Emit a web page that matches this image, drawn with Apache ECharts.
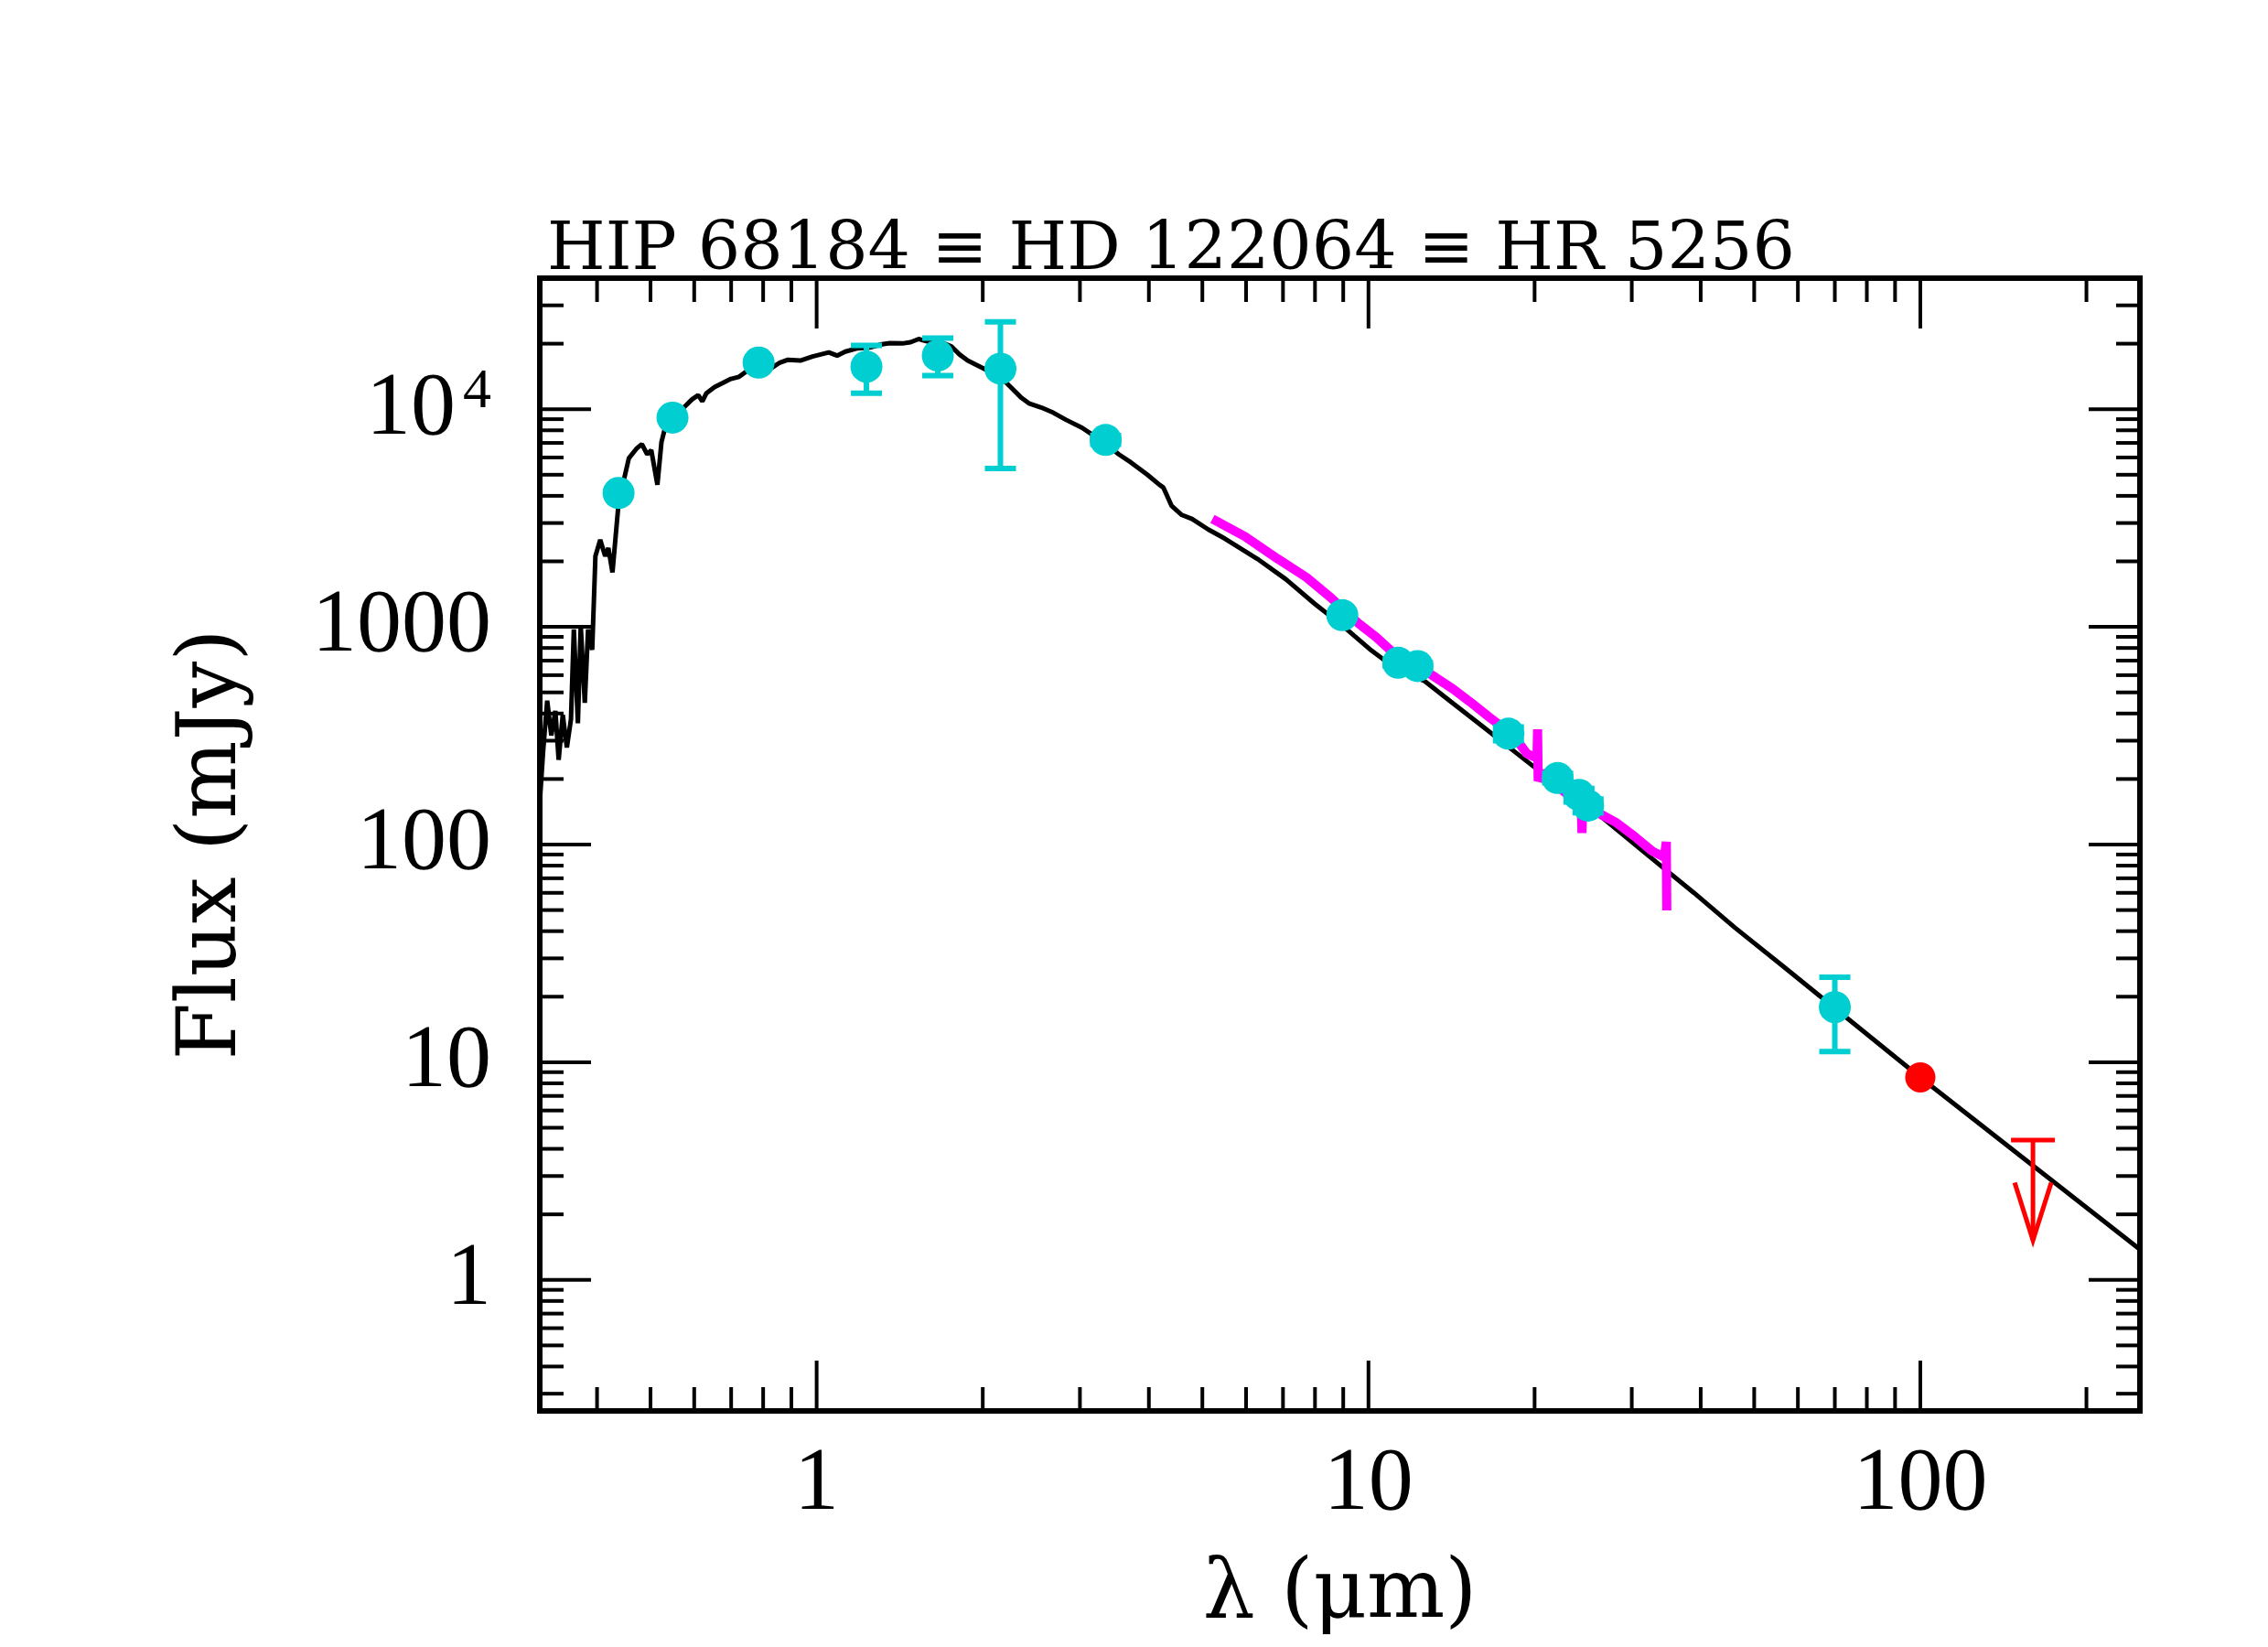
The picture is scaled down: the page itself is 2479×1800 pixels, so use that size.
<!DOCTYPE html>
<html>
<head>
<meta charset="utf-8">
<script src="https://cdn.jsdelivr.net/npm/echarts@6/dist/echarts.min.js"></script>
<style>
html,body{margin:0;padding:0;background:#fff;}
#chart{width:2479px;height:1800px;}
</style>
</head>
<body>
<div id="chart"></div>
<script>
// ---- Data (wavelength in micron, flux in mJy) ----
const modelWave = [0.315,0.3194,0.3249,0.3305,0.3362,0.3408,0.3467,0.3527,0.3588,0.3631,0.3693,0.3737,0.3801,0.3853,0.392,0.3973,0.4054,0.4138,0.4194,0.4266,0.4376,0.4567,0.4725,0.4823,0.4931,0.5016,0.5146,0.5234,0.5324,0.5509,0.5798,0.5948,0.6102,0.6207,0.6314,0.6533,0.676,0.6994,0.7235,0.7486,0.7877,0.8289,0.8577,0.8875,0.9341,0.9831,1.017,1.052,1.089,1.127,1.186,1.248,1.313,1.359,1.43,1.48,1.531,1.557,1.611,1.695,1.754,1.815,1.878,1.943,2.011,2.08,2.153,2.227,2.344,2.425,2.551,2.685,2.827,3.026,3.184,3.351,3.527,3.712,3.974,4.182,4.251,4.399,4.589,4.789,5.128,5.489,6.29,7.087,7.985,8.995,10.13,11.22,12.65,14.25,16.05,18.08,20.37,22.95,26.53,32.27,38.92,46.14,56.4,100,250];
const modelFlux = [156,267,458,317,411,245,394,279,377,973,361,1016,448,973,784,2113,2511,2113,2304,1779,3701,5946,6622,6915,6207,6480,4493,7066,8395,9151,10413,11107,11596,10870,11850,12645,13200,13783,14080,15025,16165,15480,16375,16877,16732,17467,17848,18238,17620,18395,19040,19202,19877,20136,20050,20312,21024,20750,20312,20136,19454,17848,16732,16025,15350,14700,14080,12918,11350,10640,10190,9635,8954,8215,7538,6915,6207,5694,5004,4493,4363,3594,3268,3131,2799,2546,2053,1654,1278,1008,778,641,563,444,351,276.6,218.2,172.2,132.9,88.3,59.9,41.5,27.6,8.52,1.38];

const irsWave = [5.215,5.974,6.849,7.715,8.545,9.627,10.31,11.22,12.86,14.25,15.25,16.61,18.08,18.66,19.39,20.2,20.25,20.3,20.66,22.0,24.3,24.37,24.45,26.47,28.04,30.26,32.66,34.36,34.65,34.72];
const irsFlux = [3131,2602,2053,1690,1363,1030,900,740,614,517,454,382,325,297,261,250,338,196,215,185,152,113,150,137,126.7,109.6,93.3,87.4,102.8,49.8];

const photWave = [0.4376,0.548,0.785,1.231,1.658,2.153,3.34,8.965,11.32,12.27,17.93,22.02,24.07,25.0,70.0];
const photFlux = [4123,9151,16375,15684,17620,15350,7221,1132,684,661,323,202,169,151,17.9];
const photLow  = [null,null,null,11850,14262,5338,6900,null,660,640,300,192,157,140,11.2];
const photHigh = [null,null,null,19620,21205,25197,7560,null,710,685,347,212,181,162,24.6];

const redWave = [100];
const redFlux = [8.52];

const limitWave = [160];
const limitFlux = [4.39];
const limitTip  = [1.52];

const xMajorTicks = [1,10,100];
const xMinorTicks = [0.4,0.5,0.6,0.7,0.8,0.9,2,3,4,5,6,7,8,9,20,30,40,50,60,70,80,90,200];
const yMajorTicks = [1,10,100,1000,10000];
const yMinorTicks = [0.3,0.4,0.5,0.6,0.7,0.8,0.9,2,3,4,5,6,7,8,9,20,30,40,50,60,70,80,90,200,300,400,500,600,700,800,900,2000,3000,4000,5000,6000,7000,8000,9000,20000,30000];

const xMin = 0.315, xMax = 250, yMin = 0.25, yMax = 40000;
const titleText = 'HIP 68184 \u2261 HD 122064 \u2261 HR 5256';

// ---- build ----
const CYAN = '#00CED1', MAG = '#FF00FF', RED = '#FF0000';
const zip = (a, b) => a.map((v, i) => [v, b[i]]);
const isDecade = v => { const l = Math.log10(v); return Math.abs(l - Math.round(l)) < 1e-6; };

function xTickSeries(vals, len) {
  return {
    type: 'custom', silent: true, clip: false, z: 20,
    data: vals.map(v => [v, 1]),
    renderItem: (p, api) => {
      const v = api.value(0);
      const b = api.coord([v, yMin]), t = api.coord([v, yMax]);
      const st = {stroke: '#000', lineWidth: 4};
      return {type: 'group', children: [
        {type: 'line', shape: {x1: b[0], y1: b[1], x2: b[0], y2: b[1] - len}, style: st},
        {type: 'line', shape: {x1: t[0], y1: t[1], x2: t[0], y2: t[1] + len}, style: st}
      ]};
    }
  };
}
function yTickSeries(vals, len) {
  return {
    type: 'custom', silent: true, clip: false, z: 20,
    data: vals.map(v => [1, v]),
    renderItem: (p, api) => {
      const v = api.value(1);
      const l = api.coord([xMin, v]), r = api.coord([xMax, v]);
      const st = {stroke: '#000', lineWidth: 4};
      return {type: 'group', children: [
        {type: 'line', shape: {x1: l[0], y1: l[1], x2: l[0] + len, y2: l[1]}, style: st},
        {type: 'line', shape: {x1: r[0], y1: r[1], x2: r[0] - len, y2: r[1]}, style: st}
      ]};
    }
  };
}

const errData = [];
photWave.forEach((w, i) => { if (photLow[i] != null) errData.push([w, photFlux[i], photLow[i], photHigh[i]]); });

const chart = echarts.init(document.getElementById('chart'), null, {renderer: 'canvas'});
chart.setOption({
  backgroundColor: '#fff',
  animation: false,
  title: {
    text: titleText, left: 593, top: 234,
    textStyle: {fontFamily: 'DejaVu Serif', fontSize: 73, fontWeight: 'normal', color: '#000', lineHeight: 73}
  },
  grid: {left: 590, top: 304, width: 1749, height: 1238, show: true, borderColor: '#000', borderWidth: 6, backgroundColor: 'transparent'},
  xAxis: {
    type: 'log', logBase: 10, min: xMin, max: xMax,
    name: '\u03bb (\u03bcm)', nameLocation: 'middle', nameGap: 157,
    nameTextStyle: {fontFamily: 'DejaVu Serif', fontSize: 90, color: '#000'},
    axisLine: {show: false}, axisTick: {show: false}, splitLine: {show: false}, minorTick: {show: false},
    axisLabel: {
      margin: 32, fontFamily: 'Liberation Serif', fontSize: 98, color: '#000',
      formatter: v => isDecade(v) ? String(Math.round(v)) : ''
    }
  },
  yAxis: {
    type: 'log', logBase: 10, min: yMin, max: yMax,
    name: 'Flux (mJy)', nameLocation: 'middle', nameGap: 311, nameRotate: 90,
    nameTextStyle: {fontFamily: 'DejaVu Serif', fontSize: 90, color: '#000'},
    axisLine: {show: false}, axisTick: {show: false}, splitLine: {show: false}, minorTick: {show: false},
    axisLabel: {
      margin: 53, fontFamily: 'Liberation Serif', fontSize: 98, color: '#000',
      formatter: v => {
        if (!isDecade(v)) return '';
        const e = Math.round(Math.log10(v));
        if (e >= 4) return '{b|10}{s|' + e + '}';
        return String(Math.round(v));
      },
      rich: {
        b: {fontFamily: 'Liberation Serif', fontSize: 98, color: '#000', lineHeight: 100, verticalAlign: 'bottom'},
        s: {fontFamily: 'Liberation Serif', fontSize: 62, color: '#000', lineHeight: 100, verticalAlign: 'top', padding: [0, 0, 0, 8]}
      }
    }
  },
  series: [
    {type: 'line', name: 'model', data: zip(modelWave, modelFlux), showSymbol: false, symbol: 'none',
     lineStyle: {color: '#000', width: 5}, z: 2, clip: true},
    {type: 'line', name: 'IRS', data: zip(irsWave, irsFlux), showSymbol: false, symbol: 'none',
     lineStyle: {color: MAG, width: 10}, z: 3},
    {type: 'custom', name: 'err', z: 4, data: errData,
     renderItem: (p, api) => {
       const x = api.value(0);
       const t = api.coord([x, api.value(3)]), b = api.coord([x, api.value(2)]);
       const st = {stroke: CYAN, lineWidth: 6};
       const hw = 17;
       return {type: 'group', children: [
         {type: 'line', shape: {x1: t[0], y1: t[1], x2: b[0], y2: b[1]}, style: st},
         {type: 'line', shape: {x1: t[0] - hw, y1: t[1], x2: t[0] + hw, y2: t[1]}, style: st},
         {type: 'line', shape: {x1: b[0] - hw, y1: b[1], x2: b[0] + hw, y2: b[1]}, style: st}
       ]};
     }},
    {type: 'scatter', name: 'phot', data: zip(photWave, photFlux), symbol: 'circle', symbolSize: 35,
     itemStyle: {color: CYAN, opacity: 1}, z: 5},
    {type: 'scatter', name: 'mips', data: zip(redWave, redFlux), symbol: 'circle', symbolSize: 33,
     itemStyle: {color: RED, opacity: 1}, z: 6},
    {type: 'custom', name: 'limit', z: 6, data: limitWave.map((w, i) => [w, limitFlux[i], limitTip[i]]),
     renderItem: (p, api) => {
       const x = api.value(0);
       const t = api.coord([x, api.value(1)]), b = api.coord([x, api.value(2)]);
       const st = {stroke: RED, lineWidth: 5};
       return {type: 'group', children: [
         {type: 'line', shape: {x1: t[0] - 24, y1: t[1], x2: t[0] + 24, y2: t[1]}, style: st},
         {type: 'line', shape: {x1: t[0], y1: t[1], x2: b[0], y2: b[1]}, style: st},
         {type: 'polyline', shape: {points: [[b[0] - 20, b[1] - 63], [b[0], b[1]], [b[0] + 20, b[1] - 63]]}, style: {stroke: RED, lineWidth: 5, fill: null}}
       ]};
     }},
    xTickSeries(xMajorTicks, 55),
    xTickSeries(xMinorTicks, 26),
    yTickSeries(yMajorTicks, 56),
    yTickSeries(yMinorTicks, 26)
  ]
});
</script>
</body>
</html>
